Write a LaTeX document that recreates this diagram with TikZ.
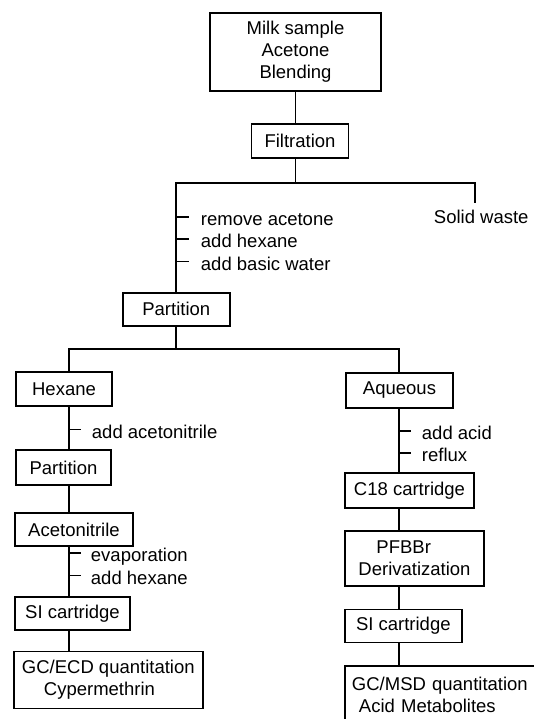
\documentclass[tikz,border=0pt]{standalone}
\usepackage{fontspec}
\setmainfont{Liberation Sans}
\usepackage{tikz}

\begin{document}
\begin{tikzpicture}[
	x=1pt, y=-1pt, line width=1.9pt,
	stage/.style={rectangle, draw=black, fill=white, align=center, inner sep=0pt,
		font=\fontsize{18.5}{22}\selectfont},
	note/.style={anchor=west, inner sep=0pt, text height=13pt, text depth=4pt,
		font=\fontsize{18.5}{22}\selectfont}
	]
	\clip (0,0) rectangle (534,719);
	
	\node[stage, minimum width=171, minimum height=78] (milk) at (295.5,51.7) {Milk sample \\ Acetone \\ Blending};
	\node[stage, minimum width=97, minimum height=34] (filt) at (300,141) {Filtration};
	\node[stage, minimum width=107, minimum height=33] (part1) at (176.3,309.2) {Partition};
	\node[stage, minimum width=96, minimum height=34] (hex) at (64,389) {Hexane};
	\node[stage, minimum width=107, minimum height=35] (aq) at (399.5,390.5) {Aqueous};
	\node[stage, minimum width=95, minimum height=35] (part2) at (63.5,467.5) {Partition};
	\node[stage, minimum width=118, minimum height=33] (acn) at (74,529.5) {Acetonitrile};
	\node[stage, minimum width=115, minimum height=33] (si1) at (72.5,613.3) {SI cartridge};
	\node[stage, minimum width=189, minimum height=57, align=left] (gcecd) at (108.3,680)
		{GC/ECD quantitation \\ \hspace*{22pt}Cypermethrin};
	\node[stage, minimum width=129, minimum height=35] (c18) at (409.5,490.8) {C18 cartridge};
	\node[stage, minimum width=139, minimum height=55, align=left] (pfbbr) at (414.5,558.3)
		{\hspace*{18pt}PFBBr \\ Derivatization};
	\node[stage, minimum width=117, minimum height=33] (si2) at (403.3,626) {SI cartridge};
	\node[stage, anchor=north west, inner xsep=7pt, text width=190pt, align=left,
		minimum height=58] (gcmsd) at (344,665)
		{GC/MSD quantitation \\ \hspace*{7pt}Acid Metabolites};
	
	\coordinate (j1) at (295.5,182.7);
	\coordinate (w1) at (475,203.3);
	\coordinate (lcol) at (69,349);
	\coordinate (rcol) at (399,349);
	
	\draw (milk.south) -- (milk.south |- filt.north);
	\draw (milk.south |- filt.south) -- (j1);
	\draw (part1.north) |- (w1 |- j1) -- (w1);
	\draw (part1.south) -- (part1.south |- lcol);
	\draw (hex.north -| lcol) |- (rcol) -- (aq.north -| rcol);
	\draw (hex.south -| lcol) -- (part2.north -| lcol);
	\draw (part2.south -| lcol) -- (acn.north -| lcol);
	\draw (acn.south -| lcol) -- (si1.north -| lcol);
	\draw (si1.south -| lcol) -- (gcecd.north -| lcol);
	\draw (aq.south -| rcol) -- (c18.north -| rcol);
	\draw (c18.south -| rcol) -- (pfbbr.north -| rcol);
	\draw (pfbbr.south -| rcol) -- (si2.north -| rcol);
	\draw (si2.south -| rcol) -- (gcmsd.north -| rcol);
	
	\node[note] (waste) at (433,219) {Solid waste};
	\node[note] (rm) at (200,221) {remove acetone};
	\node[note] (hx1) at (200,243) {add hexane};
	\node[note] (bw) at (200,265.5) {add basic water};
	\node[note] (acn1) at (91,433.5) {add acetonitrile};
	\node[note] (acid) at (421,435) {add acid};
	\node[note] (rfx) at (421,457) {reflux};
	\node[note] (evap) at (90,557) {evaporation};
	\node[note] (hx2) at (90,579.5) {add hexane};
	
	\draw (part1.north |- rm.west) ++(0,-4) -- ++(13,0);
	\draw (part1.north |- hx1.west) ++(0,-4) -- ++(13,0);
	\draw (part1.north |- bw.west) ++(0,-4) -- ++(13,0);
	\draw (lcol |- acn1.west) ++(0,-4) -- ++(12,0);
	\draw (lcol |- evap.west) ++(0,-4) -- ++(12,0);
	\draw (lcol |- hx2.west) ++(0,-4) -- ++(12,0);
	\draw (rcol |- acid.west) ++(0,-4) -- ++(12,0);
	\draw (rcol |- rfx.west) ++(0,-4) -- ++(12,0);
\end{tikzpicture}
\end{document}
